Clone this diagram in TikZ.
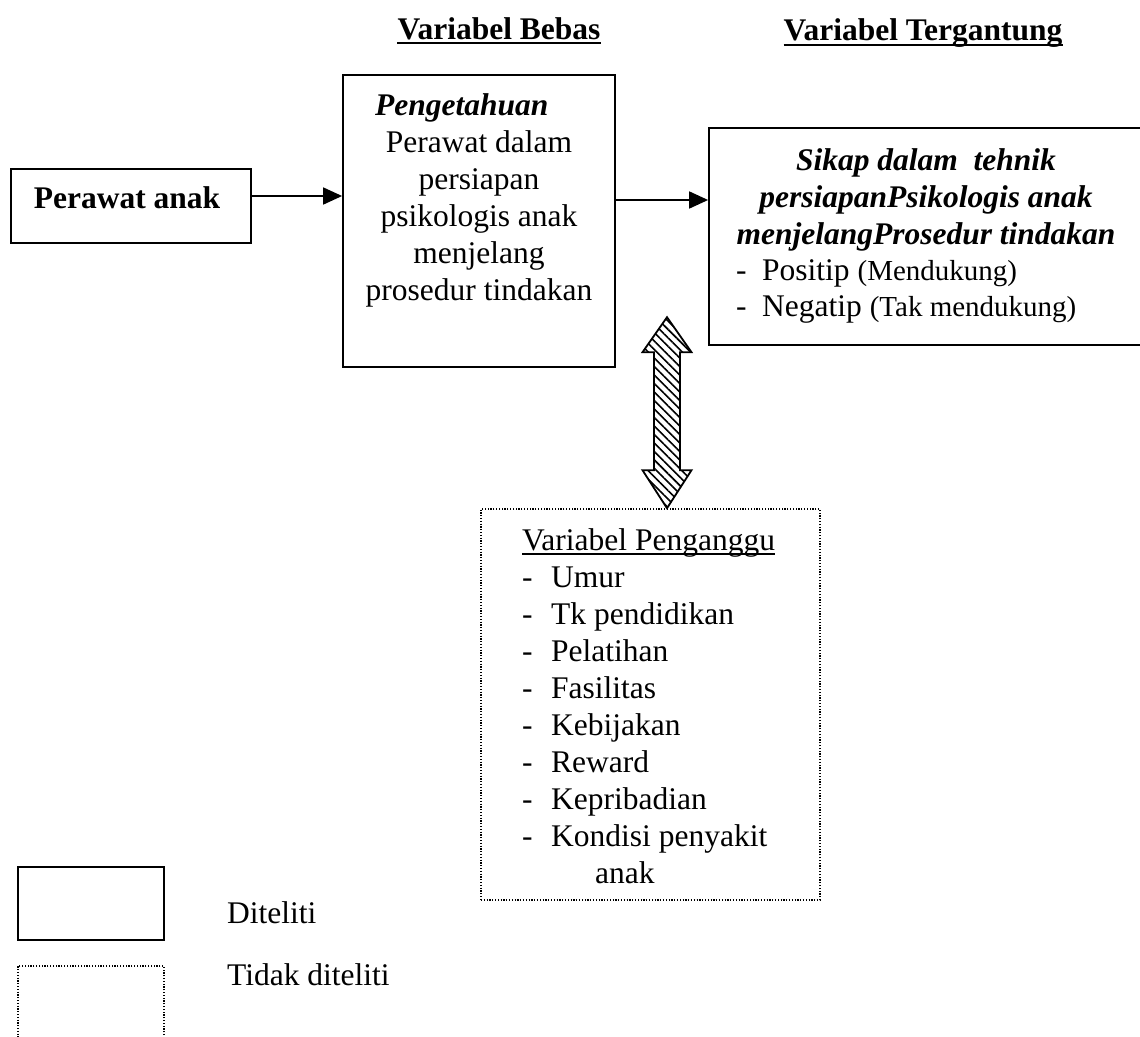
\documentclass[tikz,border=0pt]{standalone}
\usepackage{fontspec}
\setmainfont{Liberation Serif}
\usetikzlibrary{arrows.meta,patterns.meta}
\newcommand\fbig{\fontsize{31.5pt}{37pt}\selectfont}
\newcommand\fsmall{\fontsize{29pt}{34pt}\selectfont}
\begin{document}
\begin{tikzpicture}[x=1pt,y=-1pt,
  solidbox/.style={draw, line width=1.8pt, inner sep=0pt},
  dotbox/.style={draw, line width=1.6pt, dash pattern=on 1.2pt off 1.6pt, inner sep=0pt},
  txt/.style={inner sep=0pt, font=\fbig},
  arr/.style={line width=1.8pt, -{Triangle[length=19pt,width=17pt]}},
  uline/.style={line width=1.6pt},
  hatch/.style={draw, line width=1.8pt, line join=miter,
    pattern={Lines[angle=-45,distance=6pt,line width=1.6pt]}}]
\useasboundingbox (0,0) rectangle (1140,1036);
\clip (0,0) rectangle (1140,1036);

% headers
\node[txt, anchor=base, font={\fbig\bfseries}] (hb) at (499,39) {Variabel Bebas};
\draw[uline] ([yshift=-4pt]hb.base west) -- ([yshift=-4pt]hb.base east);
\node[txt, anchor=base, font={\fbig\bfseries}] (ht) at (923,40) {Variabel Tergantung};
\draw[uline] ([yshift=-5pt]ht.base west) -- ([yshift=-5pt]ht.base east);

% boxes
\node[solidbox, minimum width=240pt, minimum height=74pt] (pa) at (131,206) {};
\node[solidbox, minimum width=272pt, minimum height=292pt] (mid) at (479,221) {};
\node[solidbox, minimum width=441pt, minimum height=217pt] (rt) at (929.5,236.5) {};
\node[dotbox, minimum width=339pt, minimum height=391pt] (conf) at (650.5,704.5) {};
\node[solidbox, minimum width=146pt, minimum height=73pt] (leg1) at (91,903.5) {};
\node[dotbox, minimum width=146pt, minimum height=80pt] (leg2) at (91,1006) {};

% Perawat anak
\node[txt, anchor=base, font={\fbig\bfseries}] (pat) at (127,208) {Perawat anak};

% middle box text
\node[txt, anchor=base west, font={\fbig\bfseries\itshape}] (mp) at (375,115) {Pengetahuan};
\foreach \t [count=\i] in {Perawat dalam, persiapan, psikologis anak, menjelang, prosedur tindakan}
  \node[txt, anchor=base] (m\i) at (479,{115+37*\i}) {\t};

% right box text
\node[txt, anchor=base, font={\fbig\bfseries\itshape}] (r1) at (926,170) {Sikap dalam\ \ tehnik};
\node[txt, anchor=base, font={\fbig\bfseries\itshape}] (r2) at (926,207) {persiapanPsikologis anak};
\node[txt, anchor=base, font={\fbig\bfseries\itshape}] (r3) at (926,244) {menjelangProsedur tindakan};
\node[txt, anchor=base west] (rd1) at (736,280) {-};
\node[txt, anchor=base west] (r4) at (762,280) {Positip {\fsmall(Mendukung)}};
\node[txt, anchor=base west] (rd2) at (736,316) {-};
\node[txt, anchor=base west] (r5) at (762,316) {Negatip {\fsmall(Tak mendukung)}};

% confounding box text
\node[txt, anchor=base west] (vp) at (522,550) {Variabel Penganggu};
\draw[line width=1.3pt] ([yshift=-4pt]vp.base west) -- ([yshift=-4pt]vp.base east);
\foreach \t [count=\i] in {Umur, Tk pendidikan, Pelatihan, Fasilitas, Kebijakan, Reward, Kepribadian, Kondisi penyakit}{
  \node[txt, anchor=base west] (cd\i) at (522,{550+37*\i}) {-};
  \node[txt, anchor=base west] (ci\i) at (551,{550+37*\i}) {\t};
}
\node[txt, anchor=base west] (anak) at (595,883) {anak};

% legend text
\node[txt, anchor=base west] (l1) at (227,923) {Diteliti};
\node[txt, anchor=base west] (l2) at (227,985) {Tidak diteliti};

% connectors
\coordinate (a1) at (0,196);
\draw[arr] (pa.east |- a1) -- (mid.west |- a1);
\coordinate (a2) at (0,200);
\draw[arr] (mid.east |- a2) -- (rt.west |- a2);

% hatched double arrow
\coordinate (hx) at (667,0);
\path[hatch] (conf.north -| hx) -- ++(24.5,-38) -- ++(-11.5,0) -- ++(0,-118)
  -- ++(11.5,0) -- ++(-24.5,-35) -- ++(-24.5,35) -- ++(11.5,0) -- ++(0,118)
  -- ++(-11.5,0) -- cycle;
\end{tikzpicture}
\end{document}
